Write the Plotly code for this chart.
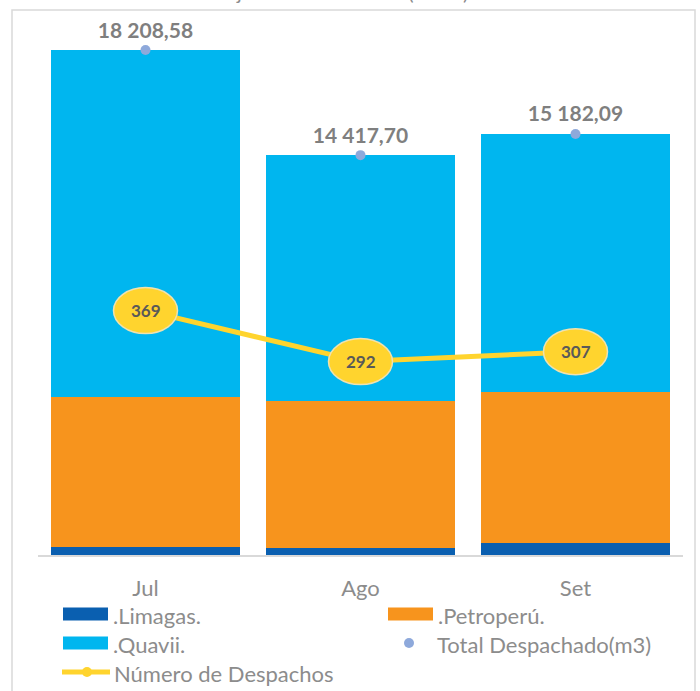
import plotly.graph_objects as go

# ---- data ----
months = ["Jul", "Ago", "Set"]
limagas = [290, 250, 430]
petroperu = [5410, 5300, 5445]
total = [18208.58, 14417.70, 15182.09]
quavii = [t - l - p for t, l, p in zip(total, limagas, petroperu)]
despachos = [369, 292, 307]

# ---- styles ----
C_LIM = "#0A5FB0"
C_PET = "#F7941D"
C_QUA = "#00B6EF"
C_TOT = "#8EA9DB"
C_LINE = "#FFD42E"
GREY = "#595959"
LGREY = "#8C8C8C"
FONT = "Lato"

W, H = 700, 691
# plot area in page pixels
PL, PR, PT, PB = 38, 683, 30, 555
PX_PER_UNIT_Y = 505 / 18208.58
PX_PER_UNIT_Y2 = 51 / 77
Y1MAX = (PB - PT) / PX_PER_UNIT_Y
Y2MAX = (PB - PT) / PX_PER_UNIT_Y2


def px(x):
    return (x - PL) / (PR - PL)


def py(y):
    return (PB - y) / (PB - PT)


fig = go.Figure()
fig.add_bar(x=months, y=limagas, name=".Limagas.", marker_color=C_LIM, marker_line_width=0)
fig.add_bar(x=months, y=petroperu, name=".Petroperú.", marker_color=C_PET, marker_line_width=0)
fig.add_bar(x=months, y=quavii, name=".Quavii.", marker_color=C_QUA, marker_line_width=0)
fig.add_scatter(
    x=months, y=total, mode="markers+text", name="Total Despachado(m3)",
    marker=dict(color=C_TOT, size=10),
    text=[f"{v:,.2f}".replace(",", " ").replace(".", ",") for v in total],
    textposition="top center",
    textfont=dict(family=FONT, size=21, color="#7F7F7F", weight="bold"),
    cliponaxis=False,
)
fig.add_scatter(
    x=months, y=despachos, yaxis="y2", mode="lines", name="Número de Despachos",
    line=dict(color=C_LINE, width=5),
)

# ellipse markers and labels for the line
rx_cat = 32 / ((PR - PL) / 3)
ry_val = 23 / PX_PER_UNIT_Y2
for i, v in enumerate(despachos):
    fig.add_shape(
        type="circle", xref="x", yref="y2",
        x0=i - rx_cat, x1=i + rx_cat, y0=v - ry_val, y1=v + ry_val,
        fillcolor=C_LINE, line=dict(color="#EFE2B0", width=1.5), layer="above",
    )
    fig.add_annotation(
        x=i, y=v, xref="x", yref="y2", text=str(v), showarrow=False,
        font=dict(family=FONT, size=17, color=GREY, weight="bold"),
    )

# outer border
fig.add_shape(type="rect", xref="paper", yref="paper",
              x0=px(12), x1=px(695), y0=py(700), y1=py(10),
              line=dict(color="#D9D9D9", width=1.5), fillcolor="rgba(0,0,0,0)", layer="below")

# cut title
fig.add_annotation(xref="paper", yref="paper", x=px(352), y=py(-8), yanchor="middle",
                   text="justado al 15-2021 (en m³)", showarrow=False,
                   font=dict(family=FONT, size=20, color=LGREY))

# manual legend
leg_font = dict(family=FONT, size=22, color=LGREY)
swatches = [(".Limagas.", C_LIM, 63, 614), (".Petroperú.", C_PET, 388, 614), (".Quavii.", C_QUA, 63, 643)]
for name, col, x0, yc in swatches:
    fig.add_shape(type="rect", xref="paper", yref="paper",
                  x0=px(x0), x1=px(x0 + 45), y0=py(yc + 6.5), y1=py(yc - 6.5),
                  fillcolor=col, line_width=0)
    fig.add_annotation(xref="paper", yref="paper", x=px(x0 + 48), y=py(yc + 1), xanchor="left",
                       yanchor="middle", text=name, showarrow=False, font=leg_font)
# total dot
fig.add_shape(type="circle", xref="paper", yref="paper",
              x0=px(404), x1=px(414), y0=py(648), y1=py(638), fillcolor=C_TOT, line_width=0)
fig.add_annotation(xref="paper", yref="paper", x=px(435), y=py(644), xanchor="left",
                   yanchor="middle", text="Total Despachado(m3)", showarrow=False, font=leg_font)
# line entry
fig.add_shape(type="line", xref="paper", yref="paper",
              x0=px(62), x1=px(110), y0=py(672), y1=py(672), line=dict(color=C_LINE, width=5))
fig.add_shape(type="circle", xref="paper", yref="paper",
              x0=px(82), x1=px(92), y0=py(677), y1=py(667), fillcolor=C_LINE, line_width=0)
fig.add_annotation(xref="paper", yref="paper", x=px(112), y=py(673), xanchor="left",
                   yanchor="middle", text="Número de Despachos", showarrow=False, font=leg_font)

fig.update_layout(
    width=W, height=H,
    margin=dict(l=PL, r=W - PR, t=PT, b=H - PB, pad=0),
    barmode="stack", bargap=0.12,
    plot_bgcolor="white", paper_bgcolor="white",
    showlegend=False,
    font=dict(family=FONT, color=GREY),
    xaxis=dict(showgrid=False, showline=True, linecolor="#D9D9D9", linewidth=1.5,
               tickfont=dict(family=FONT, size=22, color=LGREY), ticks="",
               ticklabelstandoff=13),
    yaxis=dict(range=[0, Y1MAX], visible=False, showgrid=False),
    yaxis2=dict(range=[0, Y2MAX], overlaying="y", visible=False, showgrid=False),
)

fig.write_html("out.html", config={"displayModeBar": False},
               post_script="document.body.style.margin='0';")
